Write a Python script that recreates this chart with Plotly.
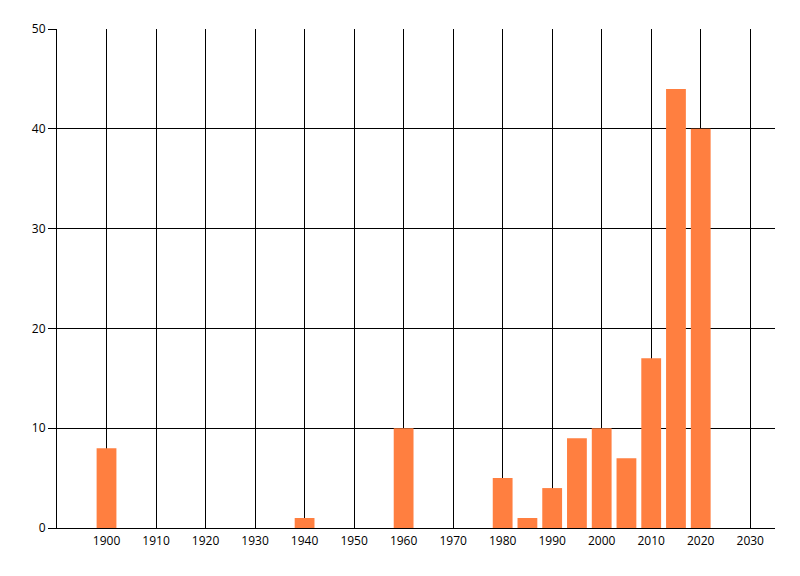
import plotly.graph_objects as go

# values
years = [1900, 1940, 1960, 1980, 1985, 1990, 1995, 2000, 2005, 2010, 2015, 2020]
counts = [8, 1, 10, 5, 1, 4, 9, 10, 7, 17, 44, 40]

x_ticks = list(range(1900, 2031, 10))
y_ticks = [0, 10, 20, 30, 40, 50]

fig = go.Figure()

fig.add_trace(go.Bar(
    x=years,
    y=counts,
    width=4,
    marker=dict(color="#FF7F40", line=dict(width=0)),
))

# page body adds an 8px offset, so margins are shifted to compensate
fig.update_layout(
    width=800,
    height=576,
    margin=dict(l=49, r=33, t=16, b=56),
    paper_bgcolor="white",
    plot_bgcolor="white",
    showlegend=False,
    font=dict(family="Open Sans", size=12, color="black"),
)

fig.update_xaxes(
    range=[1890, 2035],
    tickvals=x_ticks,
    showgrid=True,
    gridcolor="black",
    gridwidth=1,
    showline=True,
    linecolor="black",
    linewidth=1,
    ticks="",
    ticklabelstandoff=2,
    zeroline=False,
    fixedrange=True,
)

fig.update_yaxes(
    range=[0, 50],
    tickvals=y_ticks,
    showgrid=True,
    gridcolor="black",
    gridwidth=1,
    showline=True,
    linecolor="black",
    linewidth=1,
    ticks="outside",
    ticklen=8,
    tickcolor="black",
    zeroline=False,
    fixedrange=True,
)

fig.write_html("out.html")
